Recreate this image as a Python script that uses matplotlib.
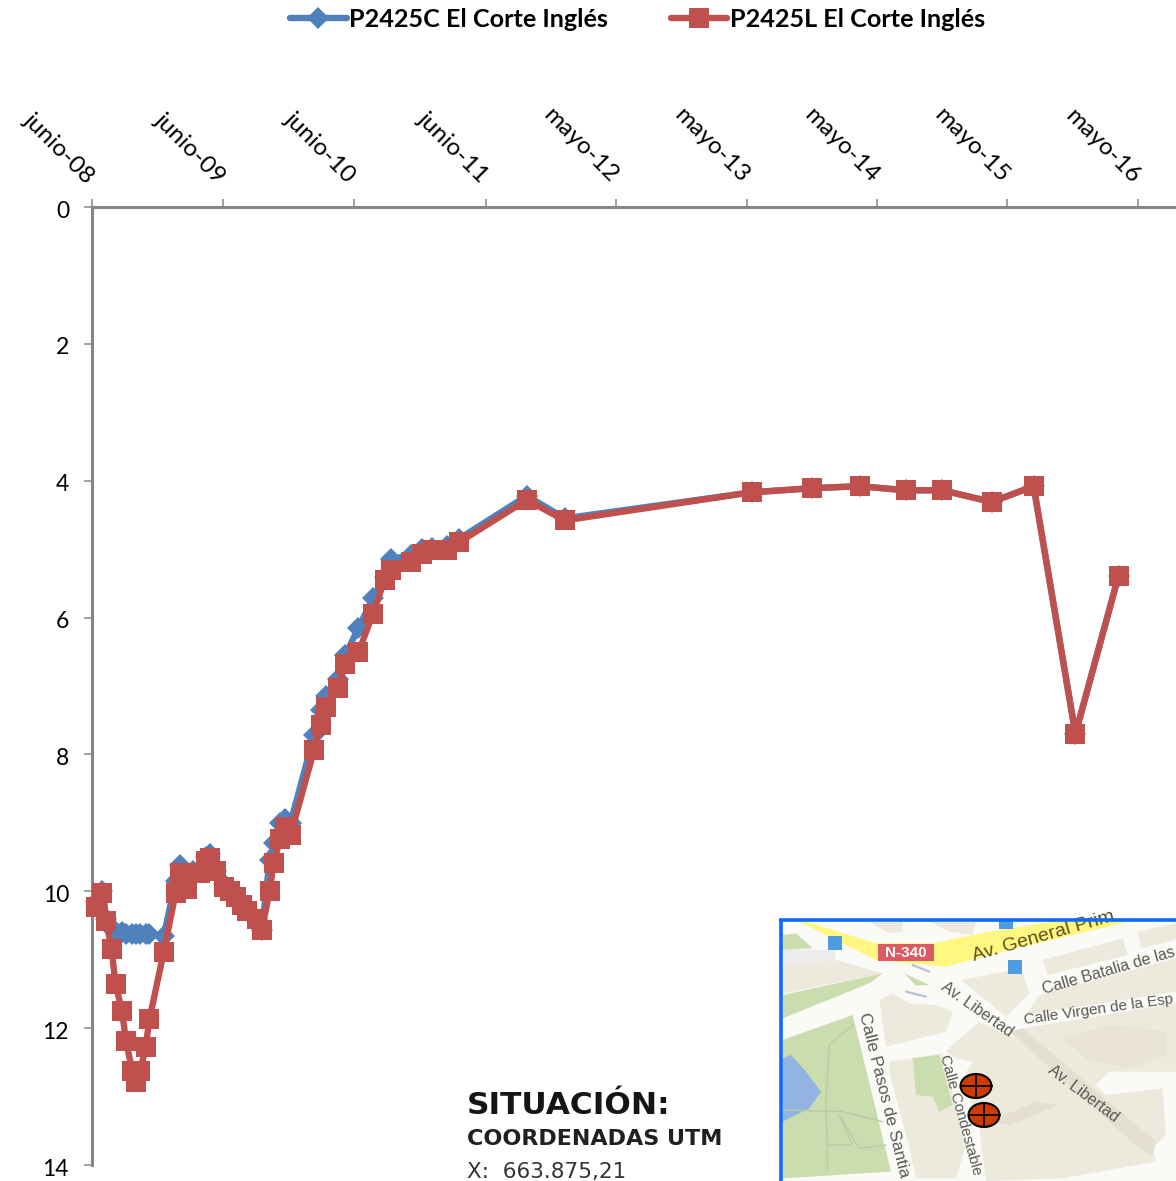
import matplotlib
matplotlib.use("Agg")
import matplotlib.pyplot as plt
from matplotlib.patches import Rectangle, Polygon, Ellipse
from matplotlib.transforms import ScaledTranslation

# ---- data (x = years since June 2008, y = depth) ----
x_years = [0.03, 0.08, 0.11, 0.15, 0.18, 0.23, 0.26, 0.31, 0.34, 0.37, 0.41, 0.44, 0.55,
           0.64, 0.67, 0.73, 0.77, 0.83, 0.87, 0.90, 0.95, 1.01, 1.06, 1.10, 1.15, 1.19, 1.26, 1.30,
           1.36, 1.39, 1.44, 1.48, 1.52, 1.70, 1.75, 1.79, 1.88, 1.94, 2.04, 2.15, 2.24, 2.29,
           2.44, 2.53, 2.60, 2.72, 2.81, 3.33, 3.62, 5.05, 5.51, 5.88, 6.23, 6.51, 6.89, 7.21,
           7.53, 7.86]
red_depth = [10.23, 10.03, 10.44, 10.85, 11.35, 11.75, 12.19, 12.63, 12.78, 12.63, 12.28, 11.87, 10.88,
             10.03, 9.74, 9.97, 9.74, 9.74, 9.56, 9.52, 9.71, 9.94, 10.0, 10.09, 10.2, 10.29, 10.41, 10.56,
             10.0, 9.59, 9.24, 9.06, 9.18, 7.94, 7.57, 7.31, 7.03, 6.68, 6.51, 5.95, 5.45, 5.31,
             5.19, 5.07, 5.01, 5.01, 4.9, 4.28, 4.58, 4.17, 4.11, 4.08, 4.14, 4.14, 4.31, 4.08,
             7.70, 5.39]
blue_depth = [10.15, 10.0, 10.4, 10.55, 10.6, 10.6, 10.62, 10.63, 10.63, 10.62, 10.63, 10.63, 10.65,
              9.85, 9.62, 9.8, 9.7, 9.7, 9.5, 9.46, 9.7, 9.9, 10.0, 10.09, 10.2, 10.29, 10.41, 10.56,
              9.55, 9.3, 9.0, 8.95, 9.0, 7.72, 7.35, 7.15, 6.9, 6.55, 6.15, 5.72, 5.4, 5.15,
              5.08, 5.0, 4.98, 4.95, 4.85, 4.22, 4.55, 4.17, 4.11, 4.08, 4.14, 4.14, 4.31, 4.08,
              7.70, 5.39]
x_ticks = [0, 1.003, 2.006, 3.017, 4.015, 5.013, 6.011, 7.006, 8.009]
x_labels = ["junio-08", "junio-09", "junio-10", "junio-11", "mayo-12",
            "mayo-13", "mayo-14", "mayo-15", "mayo-16"]
y_ticks = [0, 2, 4, 6, 8, 10, 12, 14]
series_names = ["P2425C El Corte Inglés", "P2425L El Corte Inglés"]

W, H = 1176, 1181
BLUE, RED, GREY = "#4F81BD", "#C0504D", "#868686"
plt.rcParams["font.family"] = ["Lato", "DejaVu Sans"]

fig = plt.figure(figsize=(W / 100, H / 100), dpi=100, facecolor="white")
L, T, B = 92, 207, 1165
ax = fig.add_axes([L / W, 1 - B / H, (W - L) / W, (B - T) / H])
ax.set_xlim(0, (W - L) / 130.6)
ax.set_ylim(14, 0)

l1, = ax.plot(x_years, blue_depth, color=BLUE, lw=4.6, marker="D", ms=11.5, mew=0,
              clip_on=False, solid_capstyle="round", label=series_names[0], zorder=3)
l2, = ax.plot(x_years, red_depth, color=RED, lw=4.6, marker="s", ms=14.3, mew=0,
              clip_on=False, solid_capstyle="round", label=series_names[1], zorder=4)

for s in ("right", "bottom"):
    ax.spines[s].set_visible(False)
for s in ("left", "top"):
    ax.spines[s].set_color(GREY)
    ax.spines[s].set_linewidth(2.2)
ax.xaxis.tick_top()
ax.set_xticks(x_ticks)
ax.set_xticklabels(x_labels, rotation=-45, ha="right", rotation_mode="anchor", fontsize=17.5, color="black")
ax.set_yticks(y_ticks)
ax.tick_params(axis="x", length=5.5, width=1.1, color=GREY, pad=11)
ax.tick_params(axis="y", length=5.5, width=1.1, color=GREY, pad=11, labelsize=16.5)
for lab in ax.get_xticklabels():
    lab.set_transform(lab.get_transform() + ScaledTranslation(-9 / 100, -3 / 100, fig.dpi_scale_trans))
for lab in ax.get_yticklabels():
    lab.set_transform(lab.get_transform() + ScaledTranslation(0, -2 / 100, fig.dpi_scale_trans))

fig.legend(handles=[l1, l2], loc="upper left", bbox_to_anchor=(290 / W, 1 - 8 / H), ncol=2,
           frameon=False, handlelength=2.25, handletextpad=0.1, columnspacing=2.5,
           borderpad=0, borderaxespad=0,
           prop={"family": "Lato", "weight": "bold", "size": 18.1})

# ---- overlay in pixel coordinates: location note and situation map ----
ov = fig.add_axes([0, 0, 1, 1], facecolor="none")
ov.set_xlim(0, W)
ov.set_ylim(H, 0)
ov.axis("off")

ov.text(467, 1105, "SITUACIÓN:", family="DejaVu Sans", weight="bold", fontsize=22.5,
        va="center", color="#151515")
ov.text(467, 1139, "COORDENADAS UTM", family="DejaVu Sans", weight="bold", fontsize=16,
        va="center", color="#202020")
ov.text(467, 1172, "X:  663.875,21", family="DejaVu Sans", fontsize=15.5, va="center", color="#333333")


def m(zx, zy):
    """Map sketch coordinates (3x crop of the map corner) to figure pixels."""
    return 776 + zx / 3, 915 + zy / 3


clip = Rectangle((780, 920), W - 780, H - 920, fc="#FAFAF6", ec="none", zorder=1)
ov.add_patch(clip)


def poly(pts, color, z=2):
    p = Polygon([m(*q) for q in pts], closed=True, fc=color, ec="none", zorder=z)
    ov.add_patch(p)
    p.set_clip_path(clip)


def path(pts, lw=1, color="#BDC9A6", z=3):
    xs, ys = zip(*[m(*q) for q in pts])
    ln, = ov.plot(xs, ys, color=color, lw=lw, solid_capstyle="round", zorder=z)
    ln.set_clip_path(clip)


def label(zx, zy, s, rot, size=11, color="#5A5A55"):
    x, y = m(zx, zy)
    t = ov.text(x, y, s, rotation=rot, fontsize=size, color=color, family="Liberation Sans",
                ha="left", va="center", rotation_mode="anchor", zorder=7)
    t.set_clip_path(clip)


TAN, TAN2, GREEN = "#EEE9DD", "#E4DFD1", "#CADDAE"
poly([(20, 150), (180, 135), (320, 175), (20, 235)], TAN)
poly([(20, 240), (320, 175), (280, 205), (20, 310)], GREEN)
poly([(20, 105), (175, 105), (180, 135), (20, 150)], "#ECECEA")
poly([(20, 60), (60, 55), (110, 100), (20, 105)], GREEN)
poly([(310, 255), (350, 235), (400, 265), (480, 270), (530, 290), (510, 350), (330, 395)], TAN)
poly([(555, 195), (735, 160), (760, 235), (690, 305)], TAN)
poly([(800, 135), (1040, 70), (1055, 120), (815, 180)], TAN)
poly([(1085, 50), (1200, 25), (1200, 75), (1095, 100)], TAN)
poly([(790, 240), (1200, 130), (1200, 230), (750, 300)], TAN)
poly([(740, 340), (1200, 265), (1200, 470), (1000, 470), (960, 510), (990, 540), (1160, 520),
      (1170, 660), (1130, 700)], TAN)
poly([(540, 380), (610, 320), (720, 370), (1130, 700), (1140, 740), (860, 790), (630, 798),
      (610, 640), (560, 490), (590, 440), (540, 430), (510, 410)], TAN)
poly([(700, 350), (740, 340), (1140, 680), (1130, 720), (1090, 700)], TAN2, 3)
poly([(640, 620), (780, 560), (850, 570), (700, 630)], TAN2, 3)
poly([(860, 370), (1010, 330), (1170, 350), (1170, 420), (1050, 460), (930, 430)], "#E8E3D6", 3)
poly([(20, 375), (230, 300), (345, 770), (20, 790)], GREEN)
poly([(20, 430), (45, 420), (90, 470), (135, 530), (100, 580), (20, 620)], "#93B4E0", 3)
poly([(340, 440), (500, 415), (570, 690), (540, 790), (420, 790), (400, 700), (340, 470)], TAN)
poly([(410, 430), (490, 420), (530, 570), (490, 590), (470, 545), (420, 540)], GREEN, 3)
poly([(280, 20), (380, 20), (380, 50), (340, 55)], TAN)
poly([(460, 20), (600, 20), (590, 60), (520, 50)], TAN)
poly([(385, 175), (460, 210), (420, 212)], GREEN)
path([(410, 150), (460, 170)], 1.6, "#B4C4D6")
path([(390, 230), (450, 245)], 1.6, "#B4C4D6")
path([(155, 770), (150, 560), (160, 390), (230, 330)])
path([(20, 585), (200, 590), (320, 620)])
path([(150, 690), (230, 690), (190, 600), (250, 700), (330, 690)])

poly([(70, 20), (90, 20), (300, 85), (470, 85), (640, 50), (830, 20), (1060, 20),
      (700, 105), (510, 155), (300, 135)], "#FFF780", 4)
nx, ny = m(305, 87)
ov.add_patch(Rectangle((nx, ny), 168 / 3, 51 / 3, fc="#DC5A63", ec="none", zorder=5))
ov.text(*m(389, 113), "N-340", family="Liberation Sans", weight="bold", color="white", fontsize=11,
        ha="center", va="center", zorder=6)
for zx, zy in ((177, 85), (716, 155), (690, 20)):
    bx, by = m(zx, zy)
    b = Rectangle((bx - 7, by - 7), 14, 14, fc="#4E9BE0", ec="none", zorder=6)
    ov.add_patch(b)
    b.set_clip_path(clip)

label(590, 125, "Av. General Prim", 16, 14, "#5A5020")
label(800, 225, "Calle Batalia de las", 16, 11.5)
label(745, 315, "Calle Virgen de la Esp", 8, 11)
label(500, 210, "Av. Libertad", -35, 11.5)
label(820, 460, "Av. Libertad", -37, 11.5)
label(262, 295, "Calle Pasos de Santia", -76, 12.3)
label(505, 420, "Calle Condestable", -74.5, 11)

for cx, cy in ((976, 1086), (984, 1115)):
    ov.add_patch(Ellipse((cx, cy), 31, 24, fc="#CC3B00", ec="black", lw=1.5, zorder=8))
    ov.plot([cx - 15.5, cx + 15.5], [cy, cy], color="black", lw=1.2, zorder=9)
    ov.plot([cx, cx], [cy - 12, cy + 12], color="black", lw=1.2, zorder=9)

ov.plot([780.5, 780.5], [H, 918.5], color="#0A6CFF", lw=2.6, zorder=10, solid_capstyle="butt")
ov.plot([779, W], [919.5, 919.5], color="#0A6CFF", lw=2.6, zorder=10, solid_capstyle="butt")

fig.savefig("out.png", dpi=100, facecolor="white")
